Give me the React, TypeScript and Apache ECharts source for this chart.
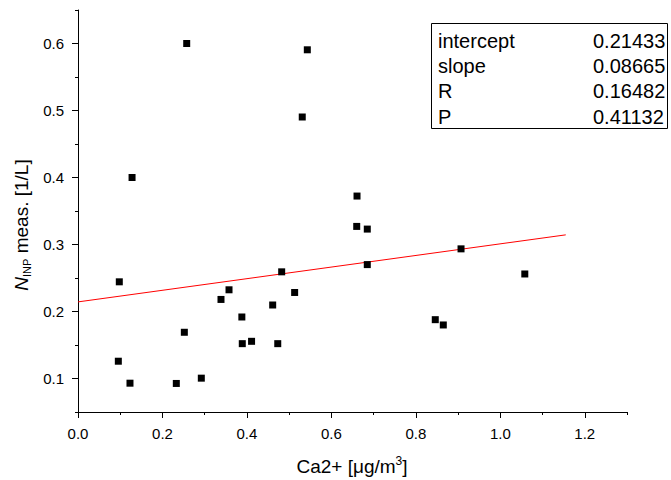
import React, { useEffect, useRef } from "react";
import * as echarts from "echarts";

// Measured data: Ca2+ [µg/m3] vs N_INP meas. [1/L]
const caValues = [
  0.0978, 0.3576, 0.3386, 0.2518, 0.0955, 0.1231, 0.2328, 0.292, 0.4823,
  0.685, 0.685, 0.66, 0.513, 0.461, 0.388, 0.389, 0.411, 0.473, 0.907,
  1.058, 0.846, 0.865, 0.2574, 0.543, 0.531, 0.128, 0.6607,
];
const ninpValues = [
  0.2443, 0.2324, 0.218, 0.169, 0.1258, 0.093, 0.0926, 0.1005, 0.2592,
  0.27, 0.323, 0.327, 0.2284, 0.2097, 0.1918, 0.152, 0.1555, 0.152, 0.2935,
  0.256, 0.1878, 0.1799, 0.6, 0.5906, 0.4903, 0.4, 0.3723,
];

// Linear fit line endpoints (as drawn)
const fitX = [0, 1.155];
const fitY = [0.21433, 0.31441];

// Fit statistics table
const statNames = ["intercept", "slope", "R", "P"];
const statValues = ["0.21433", "0.08665", "0.16482", "0.41132"];

// Tick values
const xMajorTicks = [0, 0.2, 0.4, 0.6, 0.8, 1.0, 1.2];
const xMinorTicks = [0.1, 0.3, 0.5, 0.7, 0.9, 1.1, 1.3];
const yMajorTicks = [0.1, 0.2, 0.3, 0.4, 0.5, 0.6];
const yMinorTicks = [0.05, 0.15, 0.25, 0.35, 0.45, 0.55, 0.65];

const FONT = "Liberation Sans, Arial, sans-serif";

export default function App() {
  const ref = useRef<HTMLDivElement>(null);
  useEffect(() => {
    document.body.style.margin = "0";
    if (!ref.current) return;
    const chart = echarts.init(ref.current, null, { renderer: "svg" });
    const points = caValues.map((x, i) => [x, ninpValues[i]]);
    const fit = fitX.map((x, i) => [x, fitY[i]]);

    const boxLeft = 431.5;
    const boxTop = 23.5;
    const boxW = 236;
    const boxH = 105;
    const rowH = 25.2;
    const tableFont = 20;
    const graphics: any[] = [
      {
        type: "rect",
        shape: { x: boxLeft, y: boxTop, width: boxW, height: boxH },
        style: { fill: "#fff", stroke: "#000", lineWidth: 1 },
        z: 10,
      },
    ];
    statNames.forEach((n, i) => {
      const cy = 41 + rowH * i;
      graphics.push({
        type: "text",
        x: 438,
        y: cy,
        style: { text: n, fontSize: tableFont, fontFamily: FONT, fill: "#000", verticalAlign: "middle", align: "left" },
        z: 11,
      });
      graphics.push({
        type: "text",
        x: 593,
        y: cy,
        style: { text: statValues[i], fontSize: tableFont, fontFamily: FONT, fill: "#000", verticalAlign: "middle", align: "left" },
        z: 11,
      });
    });

    // Axis titles
    graphics.push({
      type: "text",
      x: 352,
      y: 466,
      style: {
        text: "Ca2+ [μg/m{sup|3}]",
        fontSize: 19,
        fontFamily: FONT,
        fill: "#000",
        align: "center",
        verticalAlign: "middle",
        lineHeight: 22,
        rich: {
          sup: { fontSize: 12, verticalAlign: "top", lineHeight: 22, fontFamily: FONT, fill: "#000" },
        },
      },
    });
    graphics.push({
      type: "text",
      x: 21,
      y: 225,
      rotation: Math.PI / 2,
      style: {
        text: "{it|N}{sub|INP} meas. [1/L]",
        fontSize: 19,
        fontFamily: FONT,
        fill: "#000",
        align: "center",
        verticalAlign: "middle",
        lineHeight: 22,
        rich: {
          it: { fontStyle: "italic", fontSize: 19, fontFamily: FONT, fill: "#000", lineHeight: 22 },
          sub: { fontSize: 11, verticalAlign: "bottom", lineHeight: 22, fontFamily: FONT, fill: "#000" },
        },
      },
    });

    const axisCommon = {
      type: "value" as const,
      splitLine: { show: false },
    };

    chart.setOption({
      animation: false,
      backgroundColor: "#fff",
      textStyle: { fontFamily: FONT },
      grid: { left: 78, right: 44, top: 10, bottom: 68, containLabel: false },
      xAxis: [
        {
          ...axisCommon,
          min: 0,
          max: 1.3,
          position: "bottom",
          axisLine: { show: true, onZero: false, lineStyle: { color: "#000", width: 1 } },
          axisTick: { show: true, inside: false, length: 6, customValues: xMajorTicks, lineStyle: { color: "#000" } },
          axisLabel: {
            customValues: xMajorTicks,
            color: "#000",
            fontSize: 15,
            fontFamily: FONT,
            margin: 14,
            formatter: (v: number) => v.toFixed(1),
          },
        },
        {
          ...axisCommon,
          min: 0,
          max: 1.3,
          position: "bottom",
          axisLine: { show: false, onZero: false },
          axisTick: { show: true, inside: false, length: 3, customValues: xMinorTicks, lineStyle: { color: "#000" } },
          axisLabel: { show: false },
        },
      ],
      yAxis: [
        {
          ...axisCommon,
          min: 0.05,
          max: 0.65,
          position: "left",
          axisLine: { show: true, onZero: false, lineStyle: { color: "#000", width: 1 } },
          axisTick: { show: true, inside: false, length: 6, customValues: yMajorTicks, lineStyle: { color: "#000" } },
          axisLabel: {
            customValues: yMajorTicks,
            color: "#000",
            fontSize: 15,
            fontFamily: FONT,
            margin: 14,
            formatter: (v: number) => v.toFixed(1),
          },
        },
        {
          ...axisCommon,
          min: 0.05,
          max: 0.65,
          position: "left",
          axisLine: { show: false, onZero: false },
          axisTick: { show: true, inside: false, length: 3, customValues: yMinorTicks, lineStyle: { color: "#000" } },
          axisLabel: { show: false },
        },
      ],
      series: [
        {
          type: "scatter",
          xAxisIndex: 0,
          yAxisIndex: 0,
          data: points,
          symbol: "rect",
          symbolSize: 7,
          itemStyle: { color: "#000", opacity: 1 },
          z: 3,
        },
        {
          type: "line",
          xAxisIndex: 0,
          yAxisIndex: 0,
          data: fit,
          showSymbol: false,
          symbol: "none",
          lineStyle: { color: "#ff0000", width: 1 },
          z: 2,
        },
      ],
      graphic: graphics,
    });
    return () => chart.dispose();
  }, []);
  return <div ref={ref} style={{ width: 671, height: 480 }} />;
}
